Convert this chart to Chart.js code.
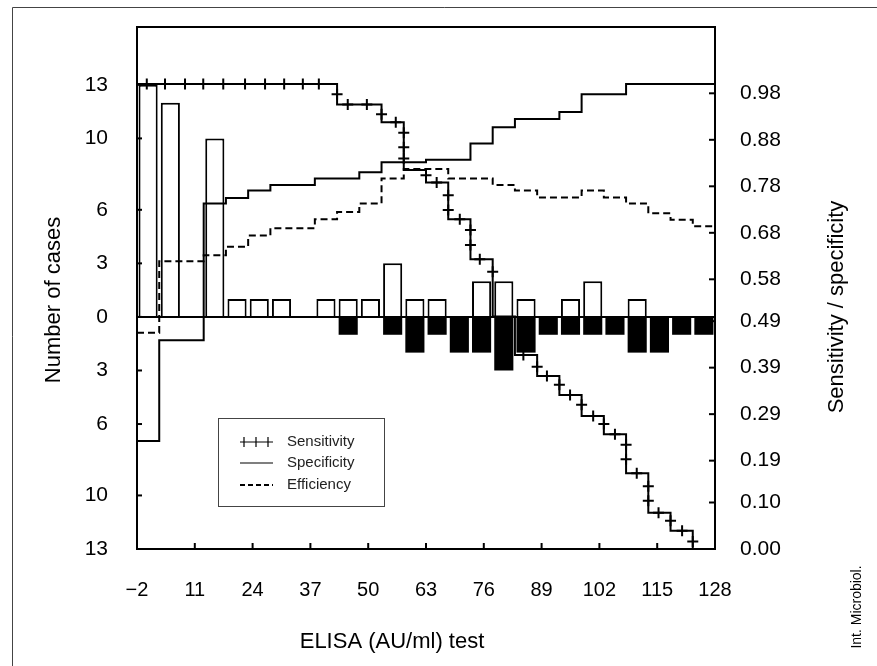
<!DOCTYPE html>
<html>
<head>
<meta charset="utf-8">
<title>ELISA cut-off: sensitivity / specificity</title>
<script src="https://cdn.jsdelivr.net/npm/chart.js@4.4.1/dist/chart.umd.min.js"></script>
<style>
  html, body { margin: 0; padding: 0; background: #fff; }
  #wrap { width: 877px; height: 666px; }
</style>
</head>
<body>
<div id="wrap"><canvas id="elisaChart" width="877" height="666"></canvas></div>
<script>
// ---- values ----

// histogram bins (5 AU/ml wide), left edge of each bin
const binStarts = [-2, 3, 8, 13, 18, 23, 28, 33, 38, 43, 48, 53, 58, 63, 68, 73, 78, 83, 88, 93, 98, 103, 108, 113, 118, 123];
const binEnd = 128;

// number of cases: white bars above zero, black bars below zero
const upperCases = [13, 12, 0, 10, 1, 1, 1, 0, 1, 1, 1, 3, 1, 1, 0, 2, 2, 1, 0, 1, 2, 0, 1, 0, 0, 0];
const lowerCases = [0, 0, 0, 0, 0, 0, 0, 0, 0, 1, 0, 1, 2, 1, 2, 2, 3, 2, 1, 1, 1, 1, 2, 2, 1, 1];

// step curves, one value per bin (right axis)
const sensitivity = [1, 1, 1, 1, 1, 1, 1, 1, 1, 0.956, 0.956, 0.918, 0.815, 0.788, 0.709, 0.623, 0.50, 0.417, 0.372, 0.331, 0.286, 0.247, 0.163, 0.078, 0.039, 0];
const specificity = [0.232, 0.449, 0.449, 0.743, 0.755, 0.771, 0.783, 0.783, 0.797, 0.797, 0.810, 0.832, 0.832, 0.837, 0.837, 0.872, 0.907, 0.925, 0.925, 0.940, 0.978, 0.978, 1, 1, 1, 1];
const efficiency = [0.465, 0.619, 0.619, 0.632, 0.650, 0.674, 0.690, 0.690, 0.709, 0.725, 0.743, 0.797, 0.817, 0.817, 0.797, 0.797, 0.783, 0.771, 0.756, 0.756, 0.771, 0.756, 0.743, 0.722, 0.708, 0.694];

// the "+" marks drawn on the sensitivity curve
const sensMarkX = [0.2, 4.3, 8.8, 12.9, 17.4, 22.3, 26.8, 31.1, 35.3, 38.9,
  43, 45.4, 49.7, 53, 56.2, 58, 58, 58, 63, 65.4, 68, 68, 70.6, 73, 73, 75.1, 78,
  84.9, 88, 90.2, 93, 95.4, 98, 100.6, 103, 105.5, 108, 108, 110.4, 113, 113, 115.3, 118, 120.6, 123];
const sensMarkY = [1, 1, 1, 1, 1, 1, 1, 1, 1, 1,
  0.978, 0.956, 0.956, 0.935, 0.918, 0.895, 0.864, 0.840, 0.804, 0.788, 0.761, 0.729, 0.709, 0.686, 0.654, 0.623, 0.596,
  0.417, 0.392, 0.372, 0.353, 0.331, 0.310, 0.286, 0.269, 0.247, 0.224, 0.193, 0.163, 0.135, 0.104, 0.078, 0.061, 0.039, 0.016];

// axis ticks
const xTicks = [-2, 11, 24, 37, 50, 63, 76, 89, 102, 115, 128];
const xTickLabels = ['\u22122', '11', '24', '37', '50', '63', '76', '89', '102', '115', '128'];
const caseTicks = [13, 10, 6, 3, 0, -3, -6, -10, -13];
const caseTickLabels = ['13', '10', '6', '3', '0', '3', '6', '10', '13'];
const rateTickLabels = ['0.98', '0.88', '0.78', '0.68', '0.58', '0.49', '0.39', '0.29', '0.19', '0.10', '0.00'];
const rateTicks = rateTickLabels.map(Number);

// ---- helpers ----
const FONT = '"Liberation Sans", Arial, Helvetica, sans-serif';

// step curve: one point per bin start plus the closing point at the right edge
function stepPoints(vals) {
    const pts = binStarts.map((x, i) => ({ x: x, y: vals[i] }));
    pts.push({ x: binEnd, y: vals[vals.length - 1] });
    return pts;
}

function barPoints(vals, sign) {
    return binStarts.map((x, i) => ({ x: x + 2.5, y: sign * vals[i] }));
}

// keep the plot box where the figure has it (no label overhang padding)
function fixBox(size) {
    return s => {
        if (s.isHorizontal()) s.height = size; else s.width = size;
        s.paddingTop = 0;
        s.paddingBottom = 0;
        s.paddingLeft = 0;
        s.paddingRight = 0;
    };
}

// frame, inward tick marks, titles and the little legend box
const decorations = {
    id: 'decorations',
    afterDatasetsDraw(chart) {
        const { ctx, chartArea: a, scales } = chart;
        ctx.save();
        ctx.strokeStyle = '#000';
        ctx.lineWidth = 2;
        const seg = (x1, y1, x2, y2) => { ctx.beginPath(); ctx.moveTo(x1, y1); ctx.lineTo(x2, y2); ctx.stroke(); };

        // zero line of the histogram
        const y0 = scales.y.getPixelForValue(0);
        seg(a.left, y0, a.right, y0);

        ctx.strokeRect(a.left, a.top, a.right - a.left, a.bottom - a.top);

        scales.y.ticks.forEach(t => {
            const py = scales.y.getPixelForValue(t.value);
            seg(a.left, py, a.left + 5, py);
        });
        scales.y2.ticks.forEach(t => {
            const py = scales.y2.getPixelForValue(t.value);
            seg(a.right - 6, py, a.right, py);
        });
        scales.x.ticks.forEach(t => {
            const px = scales.x.getPixelForValue(t.value);
            seg(px, a.bottom - 6, px, a.bottom);
        });
        ctx.restore();
    },
    afterDraw(chart) {
        const { ctx } = chart;
        ctx.save();

        // outer frame of the figure
        ctx.strokeStyle = '#444';
        ctx.lineWidth = 1;
        ctx.beginPath();
        ctx.moveTo(12.5, 666);
        ctx.lineTo(12.5, 7.5);
        ctx.lineTo(877, 7.5);
        ctx.stroke();

        // axis titles
        ctx.fillStyle = '#000';
        ctx.textAlign = 'center';
        ctx.textBaseline = 'middle';
        ctx.font = '22px ' + FONT;
        ctx.fillText('ELISA (AU/ml) test', 392, 642);

        const vText = (txt, x, y, font) => {
            ctx.save();
            ctx.translate(x, y);
            ctx.rotate(-Math.PI / 2);
            ctx.font = font;
            ctx.fillText(txt, 0, 0);
            ctx.restore();
        };
        vText('Number of cases', 54, 300, '22px ' + FONT);
        vText('Sensitivity / specificity', 837, 307, '22px ' + FONT);
        vText('Int. Microbiol.', 857, 607, '14px ' + FONT);

        // legend
        const bx = 218.5, by = 418.5, bw = 166, bh = 88;
        ctx.fillStyle = '#fff';
        ctx.fillRect(bx, by, bw, bh);
        ctx.strokeStyle = '#444';
        ctx.lineWidth = 1;
        ctx.strokeRect(bx, by, bw, bh);

        const x1 = 240, x2 = 273;
        const rows = [442, 463, 485];
        ctx.strokeStyle = '#000';
        ctx.lineWidth = 1.2;
        ctx.beginPath();
        ctx.moveTo(x1, rows[0]); ctx.lineTo(x2, rows[0]);
        [244, 256, 268].forEach(px => { ctx.moveTo(px, rows[0] - 5); ctx.lineTo(px, rows[0] + 5); });
        ctx.moveTo(x1, rows[1]); ctx.lineTo(x2, rows[1]);
        ctx.stroke();
        ctx.setLineDash([5, 3]);
        ctx.lineWidth = 2;
        ctx.beginPath();
        ctx.moveTo(x1, rows[2]); ctx.lineTo(x2, rows[2]);
        ctx.stroke();
        ctx.setLineDash([]);

        ctx.fillStyle = '#222';
        ctx.textAlign = 'left';
        ctx.font = '15px ' + FONT;
        ['Sensitivity', 'Specificity', 'Efficiency'].forEach((t, i) => ctx.fillText(t, 287, rows[i]));

        ctx.restore();
    }
};

const ctx = document.getElementById('elisaChart').getContext('2d');
const elisaChart = new Chart(ctx, {
    type: 'bar',
    data: {
        datasets: [
            {
                type: 'scatter',
                label: 'Sensitivity marks',
                data: sensMarkX.map((x, i) => ({ x: x, y: sensMarkY[i] })),
                yAxisID: 'y2',
                pointStyle: 'cross',
                pointRadius: 5.5,
                pointBorderWidth: 2,
                borderColor: '#000',
                backgroundColor: '#000',
                order: 0
            },
            {
                type: 'line',
                label: 'Sensitivity',
                data: stepPoints(sensitivity),
                yAxisID: 'y2',
                stepped: 'before',
                borderColor: '#000',
                borderWidth: 2,
                pointRadius: 0,
                fill: false,
                order: 1
            },
            {
                type: 'line',
                label: 'Specificity',
                data: stepPoints(specificity),
                yAxisID: 'y2',
                stepped: 'before',
                borderColor: '#000',
                borderWidth: 2,
                pointRadius: 0,
                fill: false,
                order: 1
            },
            {
                type: 'line',
                label: 'Efficiency',
                data: stepPoints(efficiency),
                yAxisID: 'y2',
                stepped: 'before',
                borderColor: '#000',
                borderWidth: 2,
                borderDash: [7, 4],
                pointRadius: 0,
                fill: false,
                order: 1
            },
            {
                label: 'Cases (upper)',
                data: barPoints(upperCases, 1),
                yAxisID: 'y',
                backgroundColor: '#fff',
                borderColor: '#000',
                borderWidth: 2,
                grouped: false,
                categoryPercentage: 1,
                barPercentage: 0.86,
                order: 3
            },
            {
                label: 'Cases (lower)',
                data: barPoints(lowerCases, -1),
                yAxisID: 'y',
                backgroundColor: '#000',
                borderColor: '#000',
                borderWidth: 0,
                grouped: false,
                categoryPercentage: 1,
                barPercentage: 0.86,
                order: 3
            }
        ]
    },
    options: {
        responsive: false,
        animation: false,
        layout: { padding: { top: 27, left: 0, right: 0, bottom: 0 } },
        plugins: {
            legend: { display: false },
            tooltip: { enabled: false }
        },
        scales: {
            x: {
                type: 'linear',
                offset: false,
                min: -2,
                max: 128,
                afterBuildTicks: s => { s.ticks = xTicks.map(v => ({ value: v })); },
                afterFit: fixBox(117),
                grid: { display: false, drawTicks: false },
                border: { display: false },
                ticks: {
                    autoSkip: false,
                    maxRotation: 0,
                    padding: 29,
                    color: '#000',
                    font: { family: FONT, size: 20 },
                    callback: (v, i) => xTickLabels[i]
                }
            },
            y: {
                position: 'left',
                min: -13,
                max: 16.24,
                afterBuildTicks: s => { s.ticks = caseTicks.map(v => ({ value: v })); },
                afterFit: fixBox(137),
                grid: { display: false, drawTicks: false },
                border: { display: false },
                ticks: {
                    autoSkip: false,
                    padding: 29,
                    color: '#000',
                    font: { family: FONT, size: 21 },
                    callback: (v, i) => caseTickLabels[i]
                }
            },
            y2: {
                position: 'right',
                min: 0,
                max: 1.1226,
                afterBuildTicks: s => { s.ticks = rateTicks.map(v => ({ value: v })); },
                afterFit: fixBox(162),
                grid: { display: false, drawTicks: false },
                border: { display: false },
                ticks: {
                    autoSkip: false,
                    padding: 25,
                    color: '#000',
                    font: { family: FONT, size: 21 },
                    callback: (v, i) => rateTickLabels[i]
                }
            }
        }
    },
    plugins: [decorations]
});
</script>
</body>
</html>
